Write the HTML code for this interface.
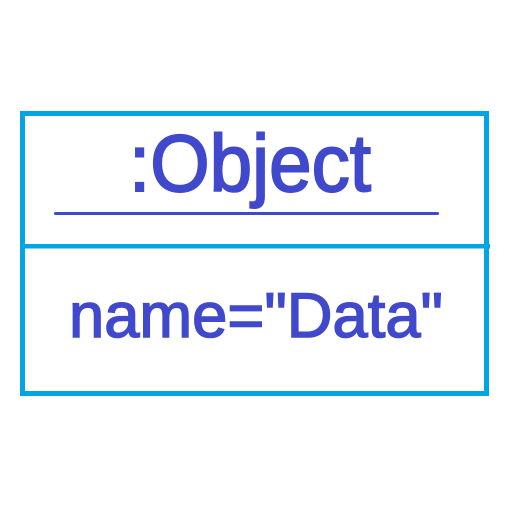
<!DOCTYPE html>
<html><head><meta charset="utf-8"><style>
html,body{margin:0;padding:0;background:#fff;width:512px;height:512px;overflow:hidden}
svg{display:block}
</style></head><body>
<svg width="512" height="512" viewBox="0 0 512 512" xmlns="http://www.w3.org/2000/svg">
<rect x="22.5" y="113.5" width="464" height="280" fill="none" stroke="#00a5e5" stroke-width="5"/>
<rect x="20" y="244" width="470" height="4.5" fill="#00a5e5"/>
<text x="129" y="191" font-family="Liberation Sans, sans-serif" font-size="81" fill="#4048cc" stroke="#4048cc" stroke-width="2" textLength="242" lengthAdjust="spacingAndGlyphs">:Object</text>
<rect x="54" y="212" width="385" height="3" rx="1.5" fill="#4048cc"/>
<text x="69" y="337" font-family="Liberation Sans, sans-serif" font-size="63" fill="#4048cc" stroke="#4048cc" stroke-width="1.5" textLength="374" lengthAdjust="spacingAndGlyphs">name="Data"</text>
</svg>
</body></html>
